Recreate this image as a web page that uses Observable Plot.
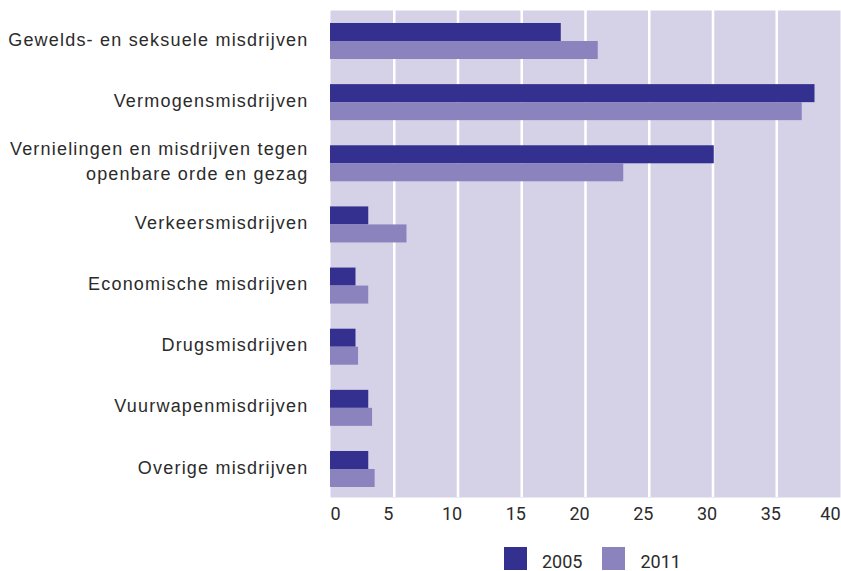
<!DOCTYPE html>
<html>
<head>
<meta charset="utf-8">
<script src="https://cdn.jsdelivr.net/npm/d3@7"></script>
<script src="https://cdn.jsdelivr.net/npm/@observablehq/plot@0.6"></script>
<style>
  html, body { margin: 0; padding: 0; background: #fff; }
  #chart svg { display: block; overflow: visible; }
  #chart g[aria-label="y-axis tick label"] text { letter-spacing: 1.2px; }
  #legend { display: flex; align-items: center; margin-top: 17px; padding-left: 504px; font-family: Roboto, sans-serif; font-size: 18px; color: #2b2b2b; }
  #legend .item { display: flex; align-items: center; margin-right: 20px; }
  #legend .sw { width: 23px; height: 23px; margin-right: 15px; }
  #legend span { position: relative; top: 3px; }
</style>
</head>
<body>
<div id="chart"></div>
<div id="legend"></div>
<script>
const categories = [
  "Gewelds- en seksuele misdrijven",
  "Vermogensmisdrijven",
  "Vernielingen en misdrijven tegen\nopenbare orde en gezag",
  "Verkeersmisdrijven",
  "Economische misdrijven",
  "Drugsmisdrijven",
  "Vuurwapenmisdrijven",
  "Overige misdrijven"
];
const values2005 = [18.1, 38.0, 30.1, 3.0, 2.0, 2.0, 3.0, 3.0];
const values2011 = [21.0, 37.0, 23.0, 6.0, 3.0, 2.2, 3.3, 3.5];
const years = ["2005", "2011"];
const colors = ["#33308f", "#8a83bd"];
const firstTick = [0];
const middleTicks = [5, 10, 15, 20, 25, 30, 35];
const lastTick = [40];

const rows = categories.flatMap((c, i) => [
  {category: c, year: years[0], value: values2005[i]},
  {category: c, year: years[1], value: values2011[i]}
]);

const axisStyle = {tickSize: 0, tickPadding: 10, fontSize: 18, fontFamily: "Roboto, sans-serif", fill: "#2b2b2b", label: null};

const chart = Plot.plot({
  width: 841,
  height: 530,
  marginTop: 10,
  marginBottom: 33,
  marginLeft: 330,
  marginRight: 1,
  x: {domain: [0, 40]},
  y: {domain: categories, paddingInner: 0.411, paddingOuter: 0.188, align: 0.565, round: false},
  color: {domain: years, range: colors},
  marks: [
    Plot.frame({fill: "#d5d2e8", stroke: "none"}),
    Plot.gridX(middleTicks, {stroke: "white", strokeOpacity: 1, strokeWidth: 2.5}),
    Plot.barX(rows.filter(d => d.year === years[0]), {x: "value", y: "category", fill: "year", insetBottom: 18}),
    Plot.barX(rows.filter(d => d.year === years[1]), {x: "value", y: "category", fill: "year", insetTop: 18}),
    Plot.axisY({tickSize: 0, tickPadding: 22, dy: -4, fontSize: 18, lineHeight: 1.39, fontFamily: "Liberation Sans, Arial, sans-serif", fill: "#2b2b2b", label: null}),
    Plot.axisX(firstTick, {...axisStyle, textAnchor: "start"}),
    Plot.axisX(middleTicks, {...axisStyle, dx: -6}),
    Plot.axisX(lastTick, {...axisStyle, textAnchor: "end"})
  ]
});
document.getElementById("chart").appendChild(chart);

const legend = d3.select("#legend");
years.forEach((y, i) => {
  const item = legend.append("div").attr("class", "item");
  item.append("div").attr("class", "sw").style("background", colors[i]);
  item.append("span").text(y);
});
</script>
</body>
</html>
